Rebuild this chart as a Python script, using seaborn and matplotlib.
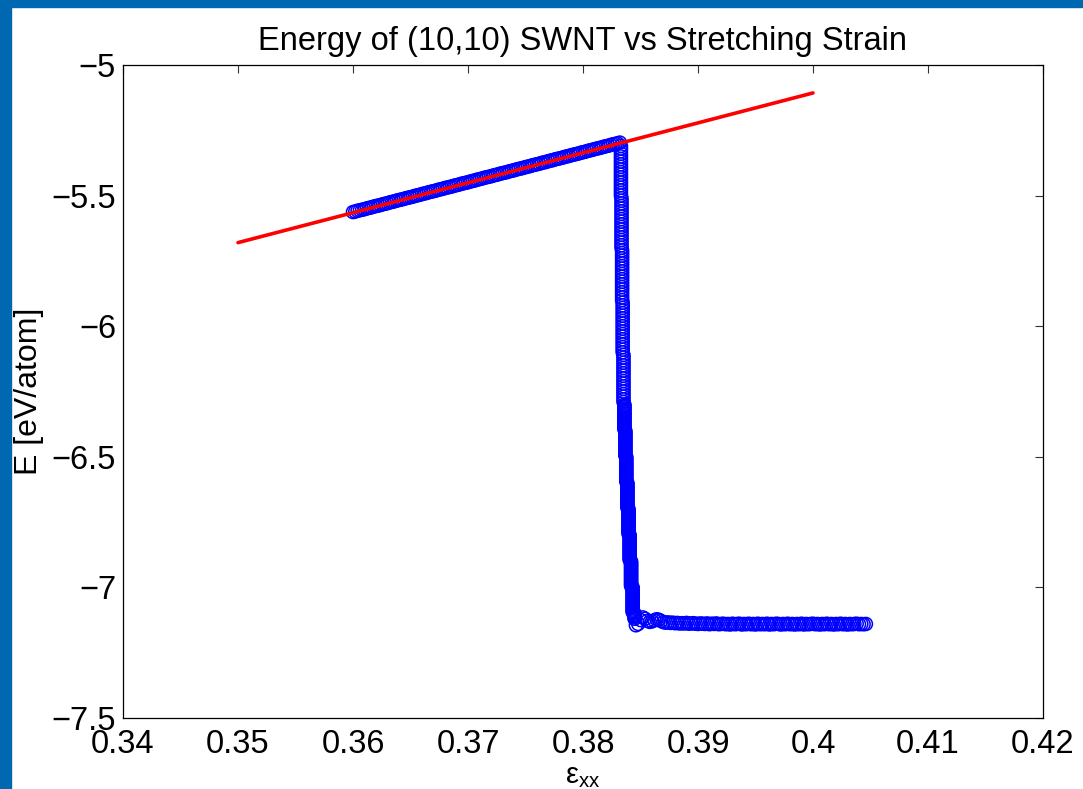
import numpy as np
import pandas as pd
import matplotlib
matplotlib.use("Agg")
import matplotlib.pyplot as plt
import seaborn as sns
from matplotlib.patches import Rectangle

# elastic part of the run
strain_elastic = [0.3600, 0.3602, 0.3604, 0.3606, 0.3608, 0.3610, 0.3612, 0.3614, 0.3616, 0.3618,
                  0.3620, 0.3622, 0.3624, 0.3626, 0.3628, 0.3630, 0.3632, 0.3634, 0.3636, 0.3638,
                  0.3640, 0.3642, 0.3644, 0.3646, 0.3648, 0.3650, 0.3652, 0.3654, 0.3656, 0.3658,
                  0.3660, 0.3662, 0.3664, 0.3666, 0.3668, 0.3670, 0.3672, 0.3674, 0.3676, 0.3678,
                  0.3680, 0.3682, 0.3684, 0.3686, 0.3688, 0.3690, 0.3692, 0.3694, 0.3696, 0.3698,
                  0.3700, 0.3702, 0.3704, 0.3706, 0.3708, 0.3710, 0.3712, 0.3714, 0.3716, 0.3718,
                  0.3720, 0.3722, 0.3724, 0.3726, 0.3728, 0.3730, 0.3732, 0.3734, 0.3736, 0.3738,
                  0.3740, 0.3742, 0.3744, 0.3746, 0.3748, 0.3750, 0.3752, 0.3754, 0.3756, 0.3758,
                  0.3760, 0.3762, 0.3764, 0.3766, 0.3768, 0.3770, 0.3772, 0.3774, 0.3776, 0.3778,
                  0.3780, 0.3782, 0.3784, 0.3786, 0.3788, 0.3790, 0.3792, 0.3794, 0.3796, 0.3798,
                  0.3800, 0.3802, 0.3804, 0.3806, 0.3808, 0.3810, 0.3812, 0.3814, 0.3816, 0.3818,
                  0.3820, 0.3822, 0.3824, 0.3826, 0.3828, 0.3830, 0.3832]
energy_elastic = [-5.563, -5.561, -5.558, -5.556, -5.554, -5.552, -5.549, -5.547, -5.545, -5.542,
                  -5.540, -5.538, -5.536, -5.533, -5.531, -5.529, -5.526, -5.524, -5.522, -5.519,
                  -5.517, -5.515, -5.513, -5.510, -5.508, -5.506, -5.504, -5.501, -5.499, -5.497,
                  -5.494, -5.492, -5.490, -5.487, -5.485, -5.483, -5.481, -5.478, -5.476, -5.474,
                  -5.471, -5.469, -5.467, -5.465, -5.462, -5.460, -5.458, -5.455, -5.453, -5.451,
                  -5.449, -5.446, -5.444, -5.442, -5.439, -5.437, -5.435, -5.432, -5.430, -5.428,
                  -5.426, -5.423, -5.421, -5.419, -5.416, -5.414, -5.412, -5.410, -5.407, -5.405,
                  -5.403, -5.400, -5.398, -5.396, -5.394, -5.391, -5.389, -5.387, -5.384, -5.382,
                  -5.380, -5.378, -5.375, -5.373, -5.371, -5.368, -5.366, -5.364, -5.361, -5.359,
                  -5.357, -5.355, -5.352, -5.350, -5.348, -5.345, -5.343, -5.341, -5.339, -5.336,
                  -5.334, -5.332, -5.329, -5.327, -5.325, -5.322, -5.320, -5.318, -5.316, -5.313,
                  -5.311, -5.309, -5.306, -5.304, -5.302, -5.300, -5.297]

# fracture: energy drops at (almost) constant strain
strain_drop = [0.38330] * 20 + [0.38335] * 20 + [0.38340] * 20 + [0.38345] * 20 + [0.38352] * 19 \
    + [0.38360] * 20 + [0.38368] * 20 + [0.38376] * 20 + [0.38386] * 20 + [0.38396] * 20 \
    + [0.38406] * 20 + [0.38418] * 20 + [0.38432] * 20 + [0.38448] * 5
energy_drop = [-5.31, -5.32, -5.33, -5.34, -5.35, -5.36, -5.37, -5.38, -5.39, -5.40,
               -5.41, -5.42, -5.43, -5.44, -5.45, -5.46, -5.47, -5.48, -5.49, -5.50,
               -5.51, -5.52, -5.53, -5.54, -5.55, -5.56, -5.57, -5.58, -5.59, -5.60,
               -5.61, -5.62, -5.63, -5.64, -5.65, -5.66, -5.67, -5.68, -5.69, -5.70,
               -5.71, -5.72, -5.73, -5.74, -5.75, -5.76, -5.77, -5.78, -5.79, -5.80,
               -5.81, -5.82, -5.83, -5.84, -5.85, -5.86, -5.87, -5.88, -5.89, -5.90,
               -5.91, -5.92, -5.93, -5.94, -5.95, -5.96, -5.97, -5.98, -5.99, -6.00,
               -6.01, -6.02, -6.03, -6.04, -6.05, -6.06, -6.07, -6.08, -6.09, -6.10,
               -6.11, -6.12, -6.13, -6.14, -6.15, -6.16, -6.17, -6.18, -6.19, -6.20,
               -6.21, -6.22, -6.23, -6.24, -6.25, -6.26, -6.27, -6.28, -6.29,
               -6.300, -6.305, -6.310, -6.315, -6.320, -6.325, -6.330, -6.335, -6.340, -6.345,
               -6.350, -6.355, -6.360, -6.365, -6.370, -6.375, -6.380, -6.385, -6.390, -6.395,
               -6.400, -6.405, -6.410, -6.415, -6.420, -6.425, -6.430, -6.435, -6.440, -6.445,
               -6.450, -6.455, -6.460, -6.465, -6.470, -6.475, -6.480, -6.485, -6.490, -6.495,
               -6.500, -6.505, -6.510, -6.515, -6.520, -6.525, -6.530, -6.535, -6.540, -6.545,
               -6.550, -6.555, -6.560, -6.565, -6.570, -6.575, -6.580, -6.585, -6.590, -6.595,
               -6.600, -6.605, -6.610, -6.615, -6.620, -6.625, -6.630, -6.635, -6.640, -6.645,
               -6.650, -6.655, -6.660, -6.665, -6.670, -6.675, -6.680, -6.685, -6.690, -6.695,
               -6.700, -6.705, -6.710, -6.715, -6.720, -6.725, -6.730, -6.735, -6.740, -6.745,
               -6.750, -6.755, -6.760, -6.765, -6.770, -6.775, -6.780, -6.785, -6.790, -6.795,
               -6.800, -6.805, -6.810, -6.815, -6.820, -6.825, -6.830, -6.835, -6.840, -6.845,
               -6.850, -6.855, -6.860, -6.865, -6.870, -6.875, -6.880, -6.885, -6.890, -6.895,
               -6.900, -6.905, -6.910, -6.915, -6.920, -6.925, -6.930, -6.935, -6.940, -6.945,
               -6.950, -6.955, -6.960, -6.965, -6.970, -6.975, -6.980, -6.985, -6.990, -6.995,
               -7.000, -7.005, -7.010, -7.015, -7.020, -7.025, -7.030, -7.035, -7.040, -7.045,
               -7.050, -7.055, -7.060, -7.065, -7.070, -7.075, -7.080, -7.085, -7.090, -7.095,
               -7.100, -7.105, -7.110, -7.115, -7.120]

# broken tube
strain_broken = [0.3846, 0.3848, 0.3850, 0.3852, 0.3854, 0.3856, 0.3858, 0.3860, 0.3862, 0.3864,
                 0.3866, 0.3868, 0.3870, 0.3872, 0.3874, 0.3876, 0.3878, 0.3880, 0.3882, 0.3884,
                 0.3886, 0.3888, 0.3890, 0.3892, 0.3894, 0.3896, 0.3898, 0.3900, 0.3902, 0.3904,
                 0.3906, 0.3908, 0.3910, 0.3912, 0.3914, 0.3916, 0.3918, 0.3920, 0.3922, 0.3924,
                 0.3926, 0.3928, 0.3930, 0.3932, 0.3934, 0.3936, 0.3938, 0.3940, 0.3942, 0.3944,
                 0.3946, 0.3948, 0.3950, 0.3952, 0.3954, 0.3956, 0.3958, 0.3960, 0.3962, 0.3964,
                 0.3966, 0.3968, 0.3970, 0.3972, 0.3974, 0.3976, 0.3978, 0.3980, 0.3982, 0.3984,
                 0.3986, 0.3988, 0.3990, 0.3992, 0.3994, 0.3996, 0.3998, 0.4000, 0.4002, 0.4004,
                 0.4006, 0.4008, 0.4010, 0.4012, 0.4014, 0.4016, 0.4018, 0.4020, 0.4022, 0.4024,
                 0.4026, 0.4028, 0.4030, 0.4032, 0.4034, 0.4036, 0.4038, 0.4040, 0.4042, 0.4044,
                 0.4046]
energy_broken = [-7.145, -7.140, -7.125, -7.115, -7.120, -7.128, -7.132, -7.130, -7.126, -7.122,
                 -7.124, -7.129, -7.133, -7.135, -7.134, -7.136, -7.135, -7.137, -7.136, -7.138,
                 -7.137, -7.138, -7.136, -7.139, -7.138, -7.137, -7.139, -7.140, -7.138, -7.139,
                 -7.140, -7.138, -7.141, -7.139, -7.140, -7.138, -7.141, -7.140, -7.139, -7.141,
                 -7.140, -7.142, -7.139, -7.141, -7.140, -7.139, -7.142, -7.140, -7.141, -7.139,
                 -7.141, -7.140, -7.142, -7.139, -7.141, -7.140, -7.141, -7.139, -7.142, -7.140,
                 -7.141, -7.139, -7.140, -7.142, -7.140, -7.141, -7.139, -7.141, -7.140, -7.142,
                 -7.140, -7.141, -7.139, -7.142, -7.140, -7.141, -7.140, -7.139, -7.141, -7.140,
                 -7.142, -7.140, -7.141, -7.139, -7.141, -7.140, -7.142, -7.140, -7.141, -7.139,
                 -7.141, -7.140, -7.142, -7.140, -7.141, -7.140, -7.139, -7.141, -7.140, -7.141,
                 -7.140]

# linear fit
fit_strain = [0.35, 0.40]
fit_energy = [-5.680, -5.107]

sim = pd.DataFrame({"strain": strain_elastic + strain_drop + strain_broken,
                    "E": energy_elastic + energy_drop + energy_broken})
fit = pd.DataFrame({"strain": fit_strain, "E": fit_energy})

sns.set_theme(style="white")
plt.rcParams["font.family"] = ["Liberation Sans", "DejaVu Sans"]
plt.rcParams["mathtext.default"] = "regular"
plt.rcParams["axes.edgecolor"] = "black"
plt.rcParams["axes.linewidth"] = 0.9
plt.rcParams["text.color"] = "black"
plt.rcParams["axes.labelcolor"] = "black"

fig = plt.figure(figsize=(10.83, 7.89), dpi=100)
fig.patch.set_facecolor("white")
# blue frame of the slide
fig.add_artist(Rectangle((0, 0), 11 / 1083, 1, transform=fig.transFigure, color="#0067b1", zorder=0))
fig.add_artist(Rectangle((0, 1 - 7 / 789), 1, 7 / 789, transform=fig.transFigure, color="#0067b1", zorder=0))

ax = fig.add_axes([123 / 1083, 1 - 718 / 789, 920 / 1083, 653 / 789])
sns.scatterplot(data=sim, x="strain", y="E", marker="o", s=88, facecolors="none",
                edgecolors="blue", linewidths=1.1, ax=ax, zorder=2)
sns.lineplot(data=fit, x="strain", y="E", color="red", linewidth=2.6, ax=ax, zorder=3)

ax.set_xlim(0.34, 0.42)
ax.set_ylim(-7.5, -5)
ax.set_xticks([0.34, 0.35, 0.36, 0.37, 0.38, 0.39, 0.40, 0.41, 0.42])
ax.set_xticklabels(["0.34", "0.35", "0.36", "0.37", "0.38", "0.39", "0.4", "0.41", "0.42"])
ax.set_yticks([-7.5, -7, -6.5, -6, -5.5, -5])
ax.set_yticklabels(["\u22127.5", "\u22127", "\u22126.5", "\u22126", "\u22125.5", "\u22125"])
ax.tick_params(direction="in", length=6, width=0.8, color="#333333", top=True, right=True,
               labelsize=23.5, labelcolor="black")
ax.tick_params(axis="x", pad=8)
ax.tick_params(axis="y", pad=5)
for s in ax.spines.values():
    s.set_visible(True)

ax.set_title("Energy of (10,10) SWNT vs Stretching Strain", fontsize=23.5, pad=11, color="black")
ax.set_xlabel(r"$ε_{xx}$", fontsize=21, labelpad=1, color="black")
ax.set_ylabel("E [eV/atom]", fontsize=23, labelpad=5, color="black")

fig.savefig("out.png", dpi=100)
